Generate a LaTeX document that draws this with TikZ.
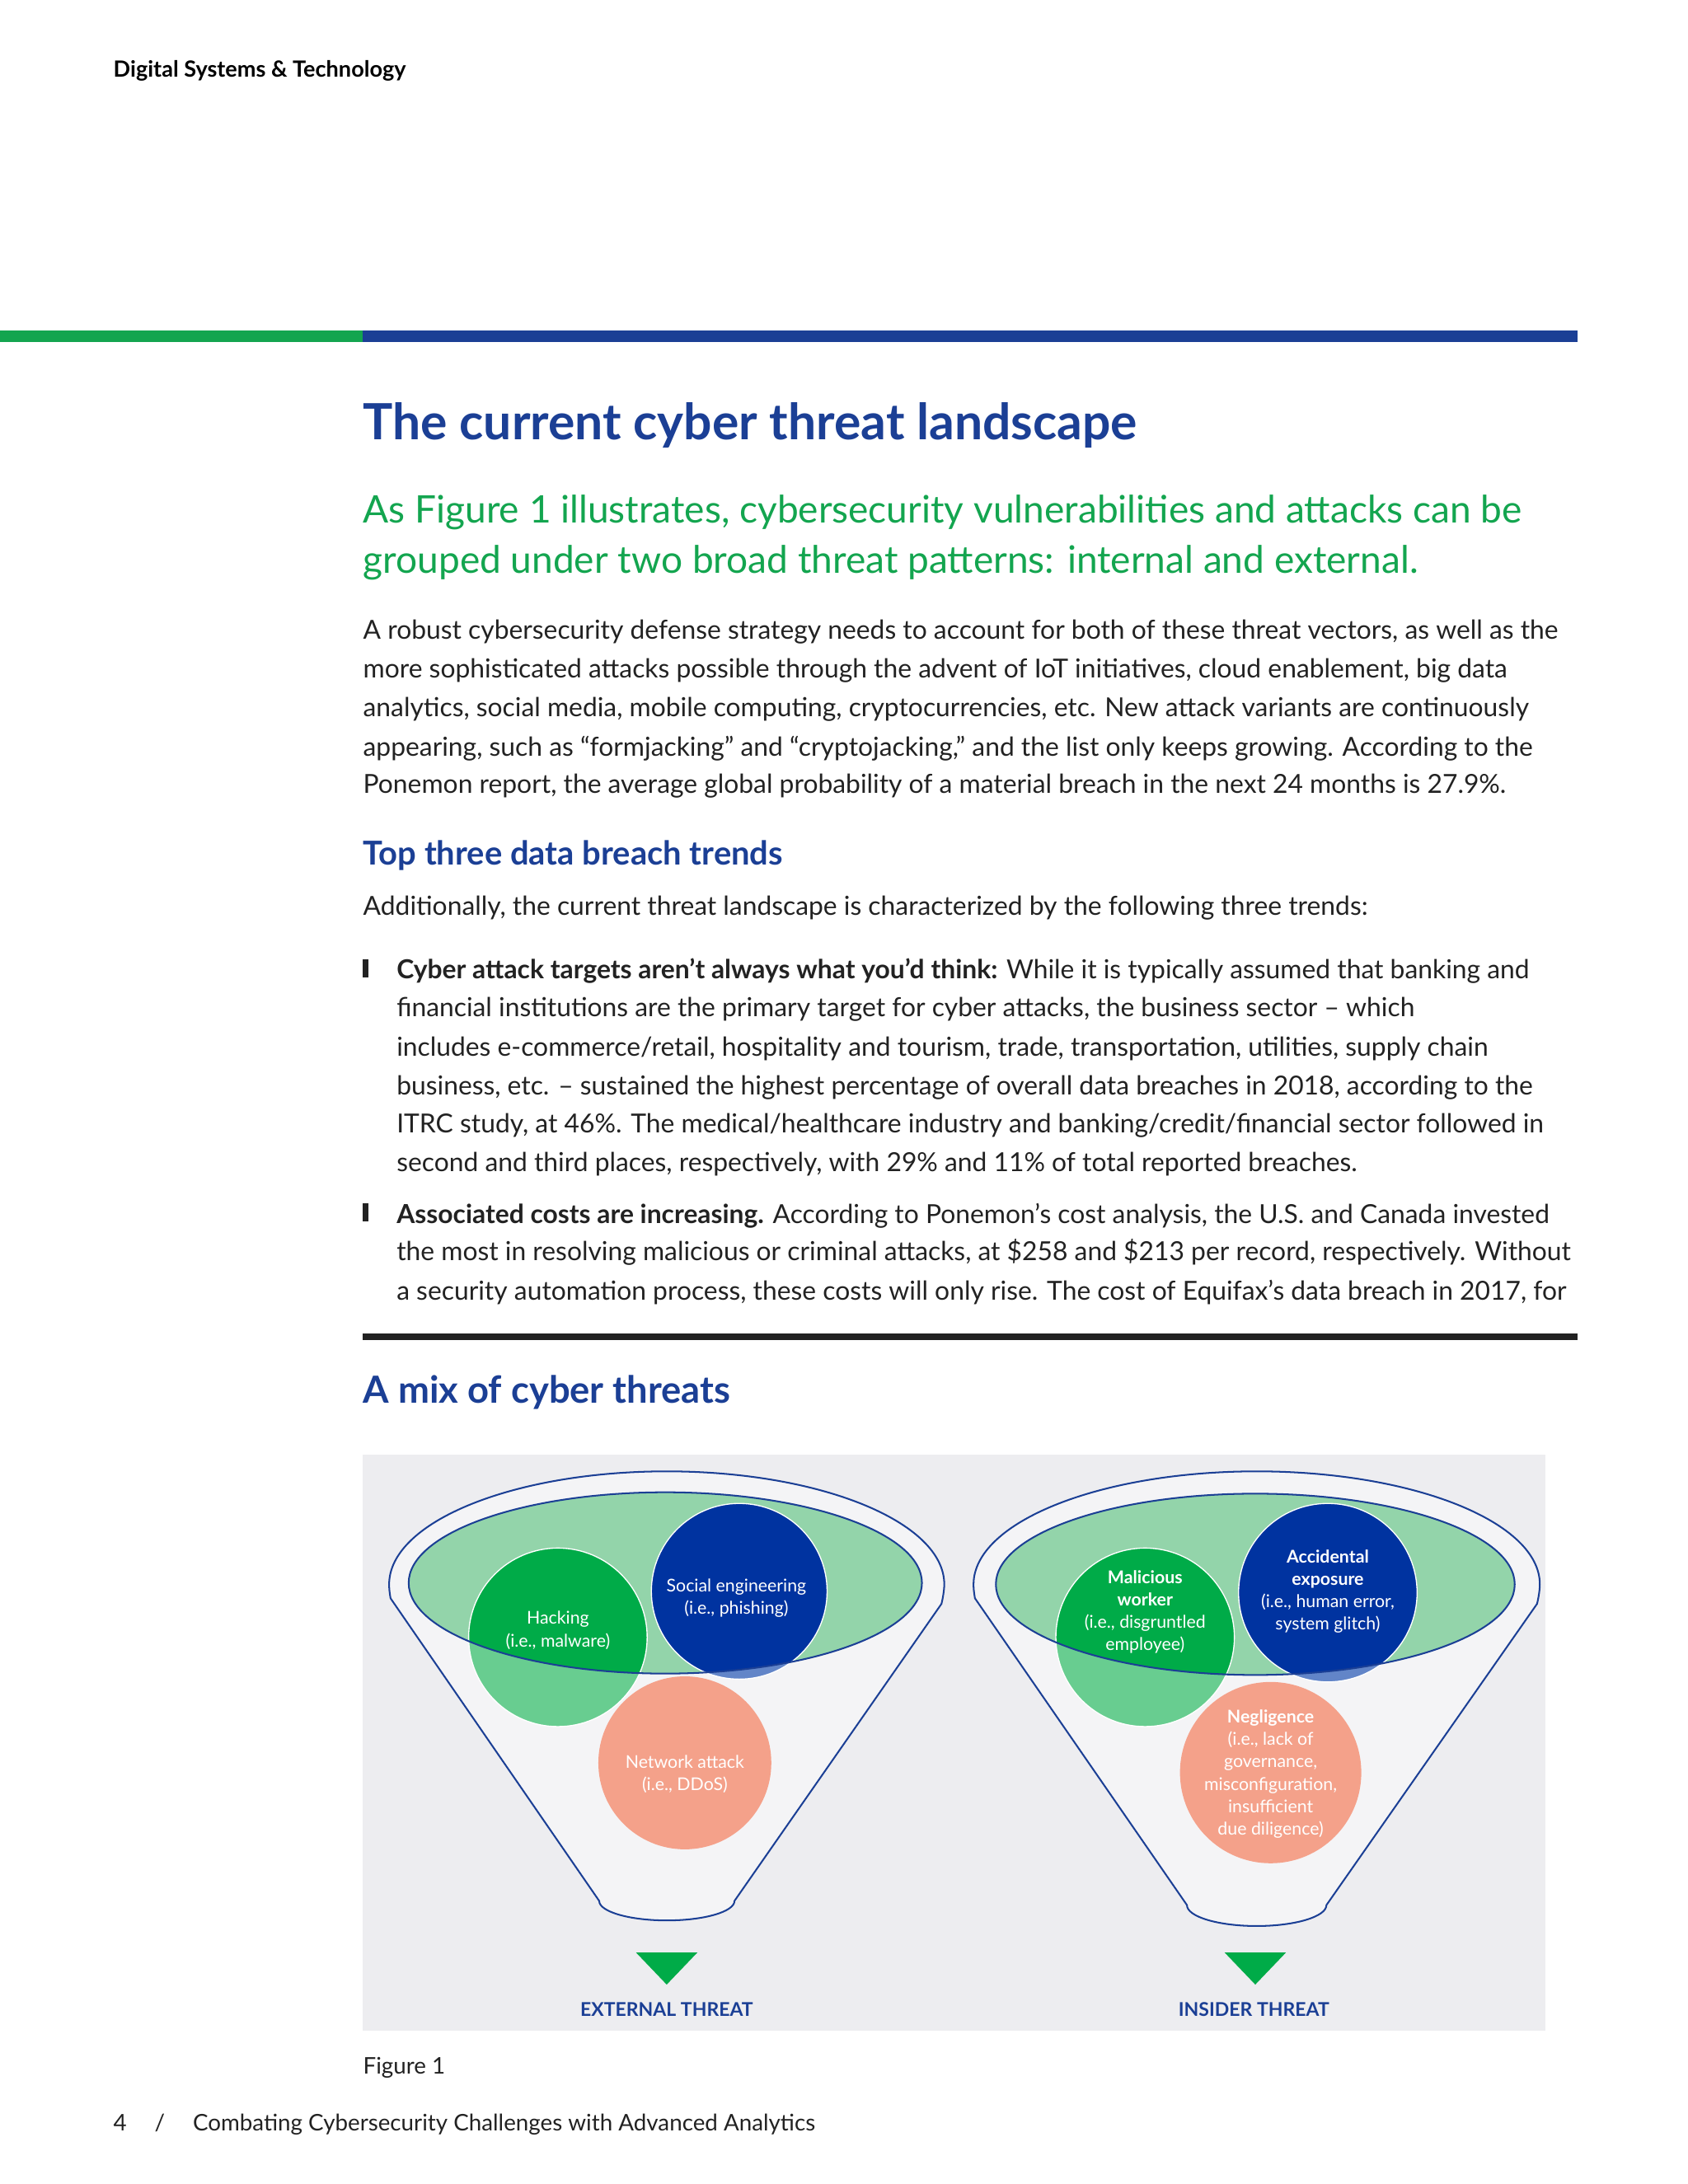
\documentclass[tikz,border=0pt]{standalone}
\usepackage{fontspec}
\setmainfont{Lato}
\definecolor{tblue}{HTML}{1B3F95}
\definecolor{tgreen}{HTML}{13A54F}
\definecolor{bgray}{HTML}{EDEDF0}
\definecolor{funfill}{HTML}{F4F4F6}
\definecolor{ellg}{HTML}{93D4AA}
\definecolor{cgd}{HTML}{00AB48}
\definecolor{cgl}{HTML}{68CD90}
\definecolor{cbd}{HTML}{0033A0}
\definecolor{cbl}{HTML}{6285C8}
\definecolor{csal}{HTML}{F4A18A}
\definecolor{ltxt}{HTML}{222222}
\tikzset{
 body/.style={anchor=base west,inner sep=0,font=\fontsize{9.4}{11}\selectfont,text=ltxt},
 ctext/.style={align=center,text=white,font=\fontsize{6.3}{8}\selectfont,inner sep=0},
 flabel/.style={text=tblue,font=\bfseries\fontsize{6.8}{8}\selectfont,inner sep=0},
 funnel/.style={draw=tblue,line width=0.6pt,fill=funfill},
 inell/.style={draw=tblue,line width=0.6pt},
 tri/.style={fill=cgd,draw=none},
}
\begin{document}
\begin{tikzpicture}[x=0.5pt,y=-0.5pt]
\useasboundingbox (0,0) rectangle (1210,1566);
\fill[white] (0,0) rectangle (1210,1566);
\node[anchor=base west,inner sep=0,font=\bfseries\fontsize{8}{9}\selectfont] (hdr) at (81,55) {Digital Systems \& Technology};
\fill[tgreen] (0,237) rectangle (260,245);
\fill[tblue] (260,237) rectangle (1131,245);
\node[anchor=base west,inner sep=0,text=tblue,font=\bfseries\fontsize{17.9}{20}\selectfont] (title) at (260,315) {The current cyber threat landscape};
\node[anchor=base west,inner sep=0,text=tgreen,font=\fontsize{13.6}{16}\selectfont] (sub1) at (260,375) {As Figure 1 illustrates, cybersecurity vulnerabilities and attacks can be};
\node[anchor=base west,inner sep=0,text=tgreen,font=\fontsize{13.6}{16}\selectfont] (sub2) at (260,411) {grouped under two broad threat patterns: internal and external.};
\node[body] (p1) at (260,458) {A robust cybersecurity defense strategy needs to account for both of these threat vectors, as well as the};
\node[body] (p2) at (260,486) {more sophisticated attacks possible through the advent of IoT initiatives, cloud enablement, big data};
\node[body] (p3) at (260,514) {analytics, social media, mobile computing, cryptocurrencies, etc. New attack variants are continuously};
\node[body] (p4) at (260,542) {appearing, such as “formjacking” and “cryptojacking,” and the list only keeps growing. According to the};
\node[body] (p5) at (260,569) {Ponemon report, the average global probability of a material breach in the next 24 months is 27.9\%.};
\node[anchor=base west,inner sep=0,text=tblue,font=\bfseries\fontsize{11.8}{13}\selectfont] (h2) at (260,620) {Top three data breach trends};
\node[body] (q0) at (260,656) {Additionally, the current threat landscape is characterized by the following three trends:};
\fill[ltxt] (260,688) rectangle (264,701);
\node[body] (b1) at (284,702) {\textbf{Cyber attack targets aren’t always what you’d think:} While it is typically assumed that banking and};
\node[body] (b2) at (284,729) {financial institutions are the primary target for cyber attacks, the business sector – which};
\node[body] (b3) at (284,757) {includes e-commerce/retail, hospitality and tourism, trade, transportation, utilities, supply chain};
\node[body] (b4) at (284,785) {business, etc. – sustained the highest percentage of overall data breaches in 2018, according to the};
\node[body] (b5) at (284,812) {ITRC study, at 46\%. The medical/healthcare industry and banking/credit/financial sector followed in};
\node[body] (b6) at (284,840) {second and third places, respectively, with 29\% and 11\% of total reported breaches.};
\fill[ltxt] (260,863) rectangle (264,876);
\node[body] (c1) at (284,877) {\textbf{Associated costs are increasing.} According to Ponemon’s cost analysis, the U.S. and Canada invested};
\node[body] (c2) at (284,904) {the most in resolving malicious or criminal attacks, at \$258 and \$213 per record, respectively. Without};
\node[body] (c3) at (284,932) {a security automation process, these costs will only rise. The cost of Equifax’s data breach in 2017, for};
\fill[ltxt] (260,956) rectangle (1131,961);
\node[anchor=base west,inner sep=0,text=tblue,font=\bfseries\fontsize{13.4}{15}\selectfont] (h3) at (260,1006) {A mix of cyber threats};
% figure
\fill[bgray] (260,1043) rectangle (1108,1456);
% left funnel
\draw[funnel] (280,1146) .. controls (279,1140) and (279,1138) .. (279,1136) arc[start angle=180,end angle=360,x radius=199,y radius=81] .. controls (677,1140) and (676,1146) .. (675,1150) -- (526.6,1363) arc[start angle=0,end angle=180,x radius=48.5,y radius=14] -- cycle;
\fill[ellg] (477,1135) ellipse[x radius=184,y radius=65];
\fill[cgl] (400,1174) circle[radius=64];
\fill[cbl] (530,1141) circle[radius=63];
\begin{scope}
\clip (477,1135) ellipse[x radius=184,y radius=65];
\fill[cgd] (400,1174) circle[radius=64];
\fill[cbd] (530,1141) circle[radius=63];
\end{scope}
\draw[white,line width=0.4pt] (400,1174) circle[radius=64] (530,1141) circle[radius=63];
\fill[csal] (491,1264) circle[radius=62];
\draw[inell] (477,1135) ellipse[x radius=184,y radius=65];
\node[ctext] (hack) at (400,1169) {Hacking\\(i.e., malware)};
\node[ctext] (soc) at (528,1146) {Social engineering\\(i.e., phishing)};
\node[ctext] (net) at (491,1272) {Network attack\\(i.e., DDoS)};
% right funnel
\draw[funnel] (699,1146) .. controls (698,1140) and (698,1138) .. (698,1136) arc[start angle=180,end angle=360,x radius=203,y radius=81] .. controls (1104,1140) and (1103,1146) .. (1102,1150) -- (951,1366) arc[start angle=0,end angle=180,x radius=50,y radius=15] -- cycle;
\fill[ellg] (900,1136) ellipse[x radius=186,y radius=65];
\fill[cgl] (821,1174) circle[radius=64];
\fill[cbl] (952,1142) circle[radius=64];
\begin{scope}
\clip (900,1136) ellipse[x radius=186,y radius=65];
\fill[cgd] (821,1174) circle[radius=64];
\fill[cbd] (952,1142) circle[radius=64];
\end{scope}
\draw[white,line width=0.4pt] (821,1174) circle[radius=64] (952,1142) circle[radius=64];
\fill[csal] (911,1271) circle[radius=65];
\draw[inell] (900,1136) ellipse[x radius=186,y radius=65];
\node[ctext] (mal) at (821,1156) {\textbf{Malicious}\\\textbf{worker}\\(i.e., disgruntled\\employee)};
\node[ctext] (acc) at (952,1141) {\textbf{Accidental}\\\textbf{exposure}\\(i.e., human error,\\system glitch)};
\node[ctext] (neg) at (911,1272) {\textbf{Negligence}\\(i.e., lack of\\governance,\\misconfiguration,\\insufficient\\due diligence)};
% triangles and labels
\fill[tri] (456,1400) -- (500,1400) -- (478,1423) -- cycle;
\fill[tri] (878,1400) -- (922,1400) -- (900,1423) -- cycle;
\node[flabel] (ext) at (478,1441) {EXTERNAL THREAT};
\node[flabel] (ins) at (899,1441) {INSIDER THREAT};
\node[body,font=\fontsize{8.2}{10}\selectfont] (fig) at (260,1487) {Figure 1};
\node[body,font=\fontsize{8.2}{10}\selectfont] (foot) at (81,1528) {4\hspace{10pt}/\hspace{10pt}Combating Cybersecurity Challenges with Advanced Analytics};
\end{tikzpicture}
\end{document}
